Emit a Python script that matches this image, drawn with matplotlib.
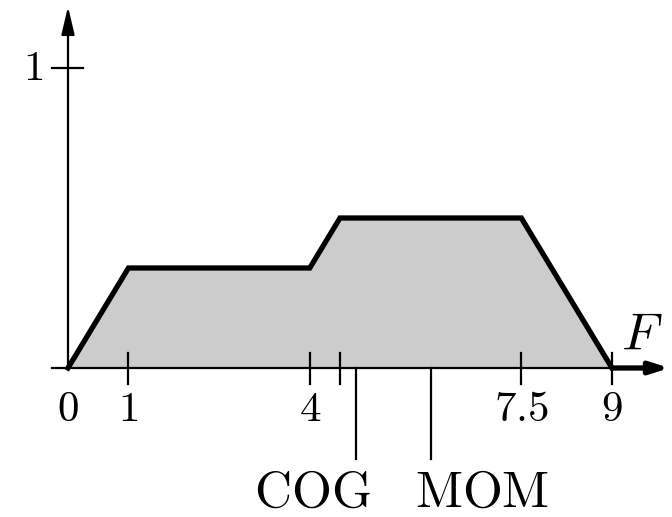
import matplotlib
matplotlib.use("Agg")
import matplotlib.pyplot as plt

plt.rcParams['mathtext.fontset'] = 'cm'

# membership function (aggregated output)
mf_x = [0, 1, 4, 4.5, 7.5, 9]
mf_y = [0, 1/3, 1/3, 0.5, 0.5, 0]

tick_x = [1, 4, 4.5, 7.5, 9]
label_x = [0, 1, 4, 7.5, 9]
label_txt = ["0", "1", "4", "7.5", "9"]

cog = 4.77
mom = 6.0


def main():
	fig = plt.figure(figsize=(6.72, 5.17), dpi=100)
	ax = fig.add_axes([0, 0, 1, 1])
	ax.set_xlim(-1.125, 9.993)
	ax.set_ylim(-0.4967, 1.2267)
	ax.axis("off")

	# filled area + thick outline
	ax.fill(mf_x, mf_y, color="#cccccc", zorder=1)
	ax.plot(mf_x, mf_y, color="black", lw=3.8, solid_joinstyle="miter", zorder=4)

	# axes
	ax.plot([-0.265, 9], [0, 0], color="black", lw=1.6, zorder=3)
	ax.annotate("", xy=(9.95, 0), xytext=(9, 0),
		arrowprops=dict(arrowstyle="-|>,head_length=1.1,head_width=0.35",
			color="black", lw=3.8, shrinkA=0, shrinkB=0), zorder=4)
	ax.annotate("", xy=(0, 1.205), xytext=(0, 0),
		arrowprops=dict(arrowstyle="-|>,head_length=1.7,head_width=0.4",
			color="black", lw=1.6, shrinkA=0, shrinkB=0), zorder=3)
	ax.plot([-0.265, 0.25], [1, 1], color="black", lw=1.6)
	ax.text(-0.58, 1.0, "$1$", fontsize=31, ha="center", va="center")

	# ticks on F axis
	for t in tick_x:
		ax.plot([t, t], [-0.053, 0.05], color="black", lw=1.6, zorder=5)
	for t, s in zip(label_x, label_txt):
		ax.text(t, -0.137, "$" + s + "$", fontsize=31, ha="center", va="center")

	# defuzzified values
	ax.plot([cog, cog], [0, -0.305], color="black", lw=1.6)
	ax.plot([mom, mom], [0, -0.305], color="black", lw=1.6)
	ax.text(4.05, -0.415, r"$\mathrm{COG}$", fontsize=37, ha="center", va="center")
	ax.text(6.85, -0.415, r"$\mathrm{MOM}$", fontsize=37, ha="center", va="center")

	ax.text(9.5, 0.11, "$F$", fontsize=38, ha="center", va="center")

	fig.savefig("out.png", dpi=100)


if __name__ == '__main__':
	main()
